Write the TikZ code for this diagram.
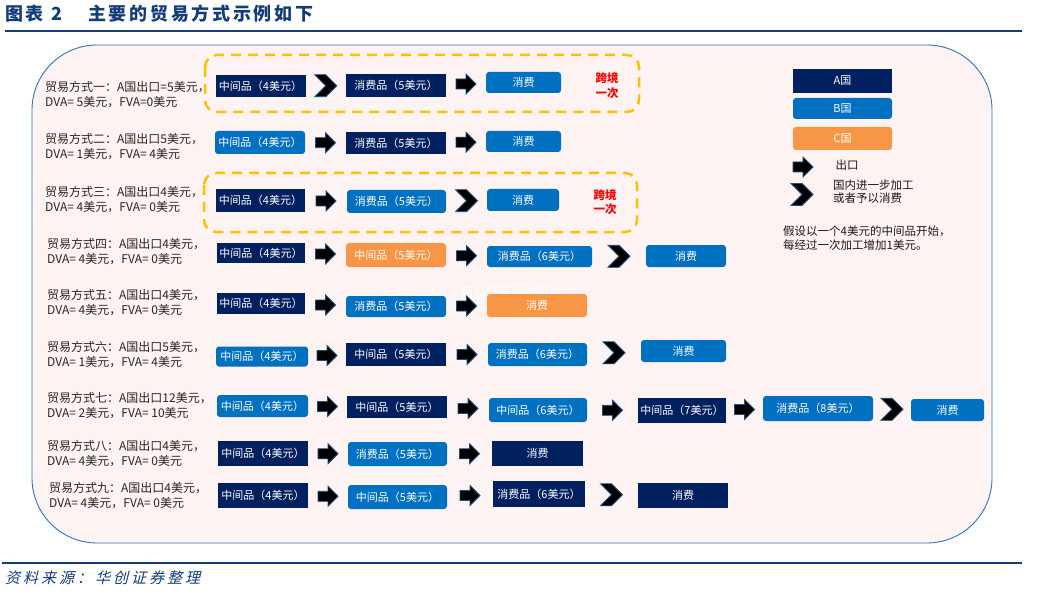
\documentclass[tikz,border=0pt]{standalone}
\usepackage{fontspec}
\usetikzlibrary{calc}
\setmainfont{Noto Sans CJK SC}
\newfontfamily\headfont[LetterSpace=15]{Noto Sans CJK SC}
\newfontfamily\sourcefont[LetterSpace=20, FakeSlant=0.25]{Noto Sans CJK SC}

\definecolor{acountry}{RGB}{0,32,96}
\definecolor{bcountry}{RGB}{0,112,192}
\definecolor{ccountry}{RGB}{247,150,70}
\definecolor{framepink}{RGB}{253,243,243}
\definecolor{frameblue}{RGB}{46,117,182}
\definecolor{dashgold}{RGB}{255,192,0}
\definecolor{titleblue}{RGB}{20,60,120}
\definecolor{crossred}{RGB}{255,0,0}
\definecolor{arrowrim}{RGB}{31,78,121}

\begin{document}
\begin{tikzpicture}[x=1pt, y=-1pt,
    abox/.style={fill=acountry, text=white, inner sep=0pt, font=\fontsize{11}{12}\selectfont},
    bbox/.style={abox, fill=bcountry, rounded corners=3pt},
    cbox/.style={abox, fill=ccountry, rounded corners=3pt},
    tradetext/.style={anchor=west, align=left, inner sep=0pt, text=black!85, font=\fontsize{12}{15}\selectfont},
    keytext/.style={anchor=west, align=left, inner sep=0pt, text=black!90, font=\fontsize{11.5}{13.5}\selectfont},
    crossnote/.style={align=center, inner sep=0pt, text=crossred, font=\fontsize{11.5}{14.5}\selectfont\bfseries},
    arrowicon/.style={fill=black, draw=arrowrim, line width=0.8pt},
    crossborder/.style={draw=dashgold, line width=2.5pt, dash pattern=on 10pt off 7pt, rounded corners=12pt},
    headrule/.style={draw=titleblue, line width=2pt}]
  % An export arrow: #1 = its center.
  \newcommand{\exportarrow}[1]{%
    \draw[arrowicon] (#1) ++(-10,-5) -- ++(10,0) -- ++(0,-5) -- ++(10,10)
                     -- ++(-10,10) -- ++(0,-5) -- ++(-10,0) -- cycle;}
  % A chevron (further processing at home, or consumption): #1 = its center.
  \newcommand{\chevronarrow}[1]{%
    \draw[arrowicon] (#1) ++(-11,-11) -- ++(11,0) -- ++(11,11)
                     -- ++(-11,11) -- ++(-11,0) -- ++(11,-11) -- cycle;}

  \useasboundingbox (0,0) rectangle (1057,604);

  % heading, rules and source
  \node[anchor=west, inner sep=0pt, text=titleblue, font=\headfont\fontsize{18}{20}\selectfont\bfseries]
    (fignum) at (5,14) {图表\hspace{8pt}2};
  \node[anchor=west, inner sep=0pt, text=titleblue, font=\headfont\fontsize{18}{20}\selectfont\bfseries]
    (figtitle) at (88,14) {主要的贸易方式示例如下};
  \draw[headrule] (5,31) -- (1022,31);
  \draw[headrule] (2,563) -- (1022,563);
  \node[anchor=west, inner sep=0pt, text=titleblue, font=\sourcefont\fontsize{15}{17}\selectfont]
    (source) at (5,578) {资料来源：华创证券整理};

  % frame and the two cross-border groups
  \draw[draw=frameblue, fill=framepink, line width=0.9pt, rounded corners=65pt] (32,45) rectangle (992,543);
  \draw[crossborder] (205,55) rectangle (639,112);
  \draw[crossborder] (204,173) rectangle (637,232);
  \node[text=white, inner sep=0pt, font=\fontsize{12.5}{14}\selectfont] (ghost) at (511,292) {商品只有两种用途};

  % way 1
  \node[tradetext] (t1) at (45,95) {贸易方式一：A国出口=5美元，\\DVA= 5美元，FVA=0美元};
  \node[abox, minimum width=90, minimum height=22] (r1a) at (260.5,86) {中间品（4美元）};
  \node[abox, minimum width=100, minimum height=23] (r1b) at (396,85.5) {消费品（5美元）};
  \node[bbox, minimum width=75, minimum height=21] (r1c) at (523.5,82.5) {消费};
  \chevronarrow{$(r1a.east)!0.5!(r1b.west)$}
  \exportarrow{$(r1b.east)!0.5!(r1c.west)$}
  \node[crossnote] (x1) at (607,85.5) {跨境\\一次};

  % way 2
  \node[tradetext] (t2) at (45,146.5) {贸易方式二：A国出口5美元，\\DVA= 1美元，FVA= 4美元};
  \node[bbox, minimum width=90, minimum height=23] (r2a) at (260,142.5) {中间品（4美元）};
  \node[abox, minimum width=100, minimum height=22] (r2b) at (396,143) {消费品（5美元）};
  \node[bbox, minimum width=75, minimum height=21] (r2c) at (523.5,141.5) {消费};
  \exportarrow{$(r2a.east)!0.5!(r2b.west)$}
  \exportarrow{$(r2b.east)!0.5!(r2c.west)$}

  % way 3
  \node[tradetext] (t3) at (45,199.5) {贸易方式三：A国出口4美元，\\DVA= 4美元，FVA= 0美元};
  \node[abox, minimum width=89, minimum height=23] (r3a) at (260.5,200.5) {中间品（4美元）};
  \node[bbox, minimum width=99, minimum height=23] (r3b) at (396.5,201.5) {消费品（5美元）};
  \node[bbox, minimum width=72, minimum height=22] (r3c) at (523,200) {消费};
  \exportarrow{$(r3a.east)!0.5!(r3b.west)$}
  \chevronarrow{$(r3b.east)!0.5!(r3c.west)$}
  \node[crossnote] (x3) at (605,202) {跨境\\一次};

  % way 4
  \node[tradetext] (t4) at (47,252) {贸易方式四：A国出口4美元，\\DVA= 4美元，FVA= 0美元};
  \node[abox, minimum width=88, minimum height=20] (r4a) at (261,253) {中间品（4美元）};
  \node[cbox, minimum width=100, minimum height=24] (r4b) at (396,255) {中间品（5美元）};
  \node[bbox, minimum width=105, minimum height=21] (r4c) at (539.5,256.5) {消费品（6美元）};
  \node[bbox, minimum width=80, minimum height=22] (r4d) at (686,256) {消费};
  \exportarrow{$(r4a.east)!0.5!(r4b.west)$}
  \exportarrow{$(r4b.east)!0.5!(r4c.west)$}
  \chevronarrow{$(r4c.east)!0.5!(r4d.west)$}

  % way 5
  \node[tradetext] (t5) at (47,303) {贸易方式五：A国出口4美元，\\DVA= 4美元，FVA= 0美元};
  \node[abox, minimum width=88, minimum height=21] (r5a) at (261,303.5) {中间品（4美元）};
  \node[bbox, minimum width=100, minimum height=21] (r5b) at (396,306.5) {消费品（5美元）};
  \node[cbox, minimum width=100, minimum height=23] (r5c) at (537,305.5) {消费};
  \exportarrow{$(r5a.east)!0.5!(r5b.west)$}
  \exportarrow{$(r5b.east)!0.5!(r5c.west)$}

  % way 6
  \node[tradetext] (t6) at (47,354.5) {贸易方式六：A国出口5美元，\\DVA= 1美元，FVA= 4美元};
  \node[bbox, minimum width=92, minimum height=20] (r6a) at (262,356.5) {中间品（4美元）};
  \node[abox, minimum width=100, minimum height=23] (r6b) at (396,354.5) {中间品（5美元）};
  \node[bbox, minimum width=99, minimum height=23] (r6c) at (537.5,354.5) {消费品（6美元）};
  \node[bbox, minimum width=85, minimum height=22] (r6d) at (683.5,351) {消费};
  \exportarrow{$(r6a.east)!0.5!(r6b.west)$}
  \exportarrow{$(r6b.east)!0.5!(r6c.west)$}
  \chevronarrow{$(r6c.east)!0.5!(r6d.west)$}

  % way 7
  \node[tradetext] (t7) at (47,406) {贸易方式七：A国出口12美元，\\DVA= 2美元，FVA= 10美元};
  \node[bbox, minimum width=91, minimum height=22] (r7a) at (262.5,406) {中间品（4美元）};
  \node[abox, minimum width=100, minimum height=22] (r7b) at (397,407) {中间品（5美元）};
  \node[bbox, minimum width=98, minimum height=24] (r7c) at (538,410) {中间品（6美元）};
  \node[abox, minimum width=88, minimum height=25] (r7d) at (682,410.5) {中间品（7美元）};
  \node[bbox, minimum width=110, minimum height=25] (r7e) at (818,408.5) {消费品（8美元）};
  \node[bbox, minimum width=73, minimum height=22] (r7f) at (947.5,410) {消费};
  \exportarrow{$(r7a.east)!0.5!(r7b.west)$}
  \exportarrow{$(r7b.east)!0.5!(r7c.west)$}
  \exportarrow{$(r7c.east)!0.5!(r7d.west)$}
  \exportarrow{$(r7d.east)!0.5!(r7e.west)$}
  \chevronarrow{$(r7e.east)!0.5!(r7f.west)$}

  % way 8
  \node[tradetext] (t8) at (47,453.5) {贸易方式八：A国出口4美元，\\DVA= 4美元，FVA= 0美元};
  \node[abox, minimum width=90, minimum height=25] (r8a) at (263,453.5) {中间品（4美元）};
  \node[bbox, minimum width=99, minimum height=24] (r8b) at (397.5,454) {消费品（5美元）};
  \node[abox, minimum width=91, minimum height=25] (r8c) at (537.5,453.5) {消费};
  \exportarrow{$(r8a.east)!0.5!(r8b.west)$}
  \exportarrow{$(r8b.east)!0.5!(r8c.west)$}

  % way 9
  \node[tradetext] (t9) at (49,495.5) {贸易方式九：A国出口4美元，\\DVA= 4美元，FVA= 0美元};
  \node[abox, minimum width=90, minimum height=25] (r9a) at (263,495.5) {中间品（4美元）};
  \node[bbox, minimum width=99, minimum height=24] (r9b) at (397.5,497) {中间品（5美元）};
  \node[abox, minimum width=92, minimum height=26] (r9c) at (539,494) {消费品（6美元）};
  \node[abox, minimum width=90, minimum height=25] (r9d) at (683,495.5) {消费};
  \exportarrow{$(r9a.east)!0.5!(r9b.west)$}
  \exportarrow{$(r9b.east)!0.5!(r9c.west)$}
  \chevronarrow{$(r9c.east)!0.5!(r9d.west)$}

  % legend
  \node[abox, minimum width=99, minimum height=24] (keya) at (842.5,81) {A国};
  \node[bbox, minimum width=99, minimum height=21] (keyb) at (842.5,108.5) {B国};
  \node[cbox, minimum width=99, minimum height=23] (keyc) at (842.5,138.5) {C国};
  \exportarrow{803,167}
  \node[keytext, anchor=center] (keyexport) at (847,165) {出口};
  \chevronarrow{802,194.5}
  \node[keytext] (keyfurther) at (833,191.5) {国内进一步加工\\或者予以消费};
  \node[keytext] (note) at (783,238) {假设以一个4美元的中间品开始，\\每经过一次加工增加1美元。};
\end{tikzpicture}
\end{document}
